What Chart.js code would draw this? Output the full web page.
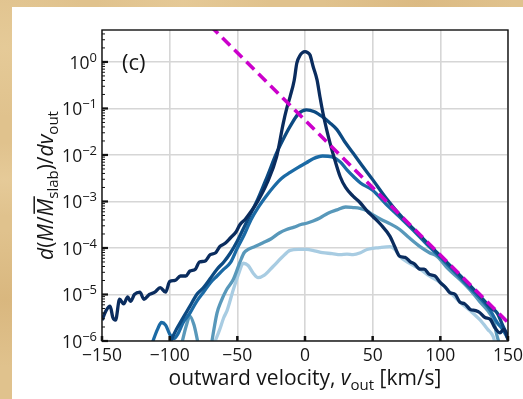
<!DOCTYPE html>
<html>
<head>
<meta charset="utf-8">
<script src="https://cdn.jsdelivr.net/npm/chart.js@4.4.0/dist/chart.umd.min.js"></script>
<style>
html, body { margin: 0; padding: 0; }
body {
  width: 523px; height: 399px; overflow: hidden;
  background-color: #e0c28d;
  background-image:
    radial-gradient(ellipse at 1% 12%, rgba(234,210,162,0.5), rgba(234,210,162,0) 14%),
    radial-gradient(ellipse at 1% 45%, rgba(236,212,166,0.45), rgba(236,212,166,0) 12%),
    radial-gradient(ellipse at 1% 75%, rgba(210,172,112,0.5), rgba(210,172,112,0) 16%),
    radial-gradient(ellipse at 35% 0%, rgba(234,208,160,0.5), rgba(234,208,160,0) 18%),
    radial-gradient(ellipse at 80% 0%, rgba(212,174,116,0.4), rgba(212,174,116,0) 16%);
}
canvas { display: block; }
</style>
</head>
<body>
<canvas id="chart" width="523" height="399"></canvas>
<script>
// outward velocity [km/s] and d(M/Mslab)/dv_out for each run (darkest -> lightest)
var vel1 = [-150,-147,-144,-142,-140,-137,-134,-131,-129,-126,-122,-119,-115,-111,-107,-103,-100,-96,-92,-88,-85,-81,-78,-74,-70,-66,-63,-59,-55,-51,-48,-44,-40,-35,-28,-21,-16,-13.5,-11,-8,-6,-3.5,-2,0,2,3.7,6,8.9,11,13.3,16,18.5,22,26,30,35.5,40.6,45.8,50.3,56,62.8,66,70,74,77.6,81,85,88,92,96,100,104,107,111,114.5,118,122,126,129,133,137,140,144,147,150];
var dm1 = [2.8e-6,4.5e-6,5.6e-6,3.2e-6,2.8e-6,7.9e-6,6.3e-6,8.9e-6,7.1e-6,1.0e-5,1.12e-5,7.9e-6,1.0e-5,1.12e-5,1.41e-5,1.12e-5,1.9e-5,2.0e-5,2.5e-5,2.5e-5,3.2e-5,3.5e-5,5.0e-5,5.2e-5,7.2e-5,7.9e-5,1.07e-4,1.26e-4,1.66e-4,2.2e-4,3.2e-4,4.2e-4,6.0e-4,1.0e-3,2.5e-3,9.1e-3,0.049,0.1,0.18,0.4,0.95,1.41,1.58,1.66,1.58,1.41,0.8,0.41,0.18,0.079,0.035,0.018,7.9e-3,3.4e-3,2.0e-3,1.3e-3,9.5e-4,6.3e-4,4.7e-4,3.2e-4,1.78e-4,1.12e-4,6.6e-5,6.3e-5,5.1e-5,4.5e-5,3.5e-5,3.5e-5,2.7e-5,2.5e-5,1.8e-5,1.41e-5,1.1e-5,1.0e-5,6.8e-6,6.3e-6,4.8e-6,4.5e-6,4.1e-6,3.2e-6,2.9e-6,2.0e-6,1.5e-6,1.8e-6,1.07e-6];

var vel2 = [-100,-95,-90,-85,-80,-75,-70,-65,-60,-55,-50,-45,-40,-35,-28,-21,-16,-11,-5,1,7,13,18,23.6,29,35.5,42,50,60,70,80,90,100,110,120,130,137,142,146,150];
var dm2 = [8.9e-7,1.78e-6,3.2e-6,5.6e-6,1.0e-5,1.41e-5,2.2e-5,3.5e-5,5.0e-5,7.9e-5,1.41e-4,2.8e-4,5.6e-4,1.1e-3,3.4e-3,0.011,0.022,0.041,0.076,0.093,0.085,0.066,0.05,0.035,0.02,0.011,6.0e-3,2.95e-3,1.17e-3,5.2e-4,2.6e-4,1.32e-4,6.8e-5,3.5e-5,1.78e-5,8.9e-6,5.2e-6,4.0e-6,2.2e-6,1.26e-6];

var vel3 = [-113,-109,-106,-103,-100,-97,-94,-90,-85,-80,-75,-70,-65,-60,-55,-50,-45,-40,-35,-29,-23,-17,-11,-5,1,6,13,20,26,31,36,41,50,60,70,80,90,100,110,120,130,137,142,146,150];
var dm3 = [8.9e-7,1.78e-6,2.5e-6,2.2e-6,1.41e-6,1.12e-6,1.41e-6,2.5e-6,4.0e-6,7.1e-6,1.12e-5,1.78e-5,2.5e-5,3.5e-5,4.9e-5,1.0e-4,1.9e-4,4.0e-4,7.1e-4,1.26e-3,2.1e-3,3.2e-3,4.2e-3,5.4e-3,6.8e-3,8.3e-3,9.5e-3,9.1e-3,7.1e-3,4.8e-3,3.4e-3,2.5e-3,1.74e-3,8.7e-4,4.6e-4,2.4e-4,1.2e-4,6.3e-5,3.2e-5,1.58e-5,7.9e-6,4.5e-6,2.5e-6,1.78e-6,1.12e-6];

var vel4 = [-91,-88,-85,-82,-79,-75,-69,-67,-65,-62,-58,-53,-48,-45,-42,-37,-31,-25,-19,-13.6,-8,-3,1.2,6,11,17,23.6,30,35.5,40.6,45.8,50,57,63,70,77,85,92,97.6,106,114.5,122,129,135,139,142,144];
var dm4 = [8.9e-7,2.0e-6,3.4e-6,2.2e-6,8.9e-7,null,8.9e-7,2.0e-6,4.0e-6,7.1e-6,1.26e-5,2.1e-5,5.0e-5,7.9e-5,9.3e-5,1.07e-4,1.29e-4,1.58e-4,2.1e-4,2.5e-4,2.8e-4,3.2e-4,3.4e-4,3.8e-4,4.4e-4,5.6e-4,6.6e-4,7.6e-4,7.4e-4,7.1e-4,6.3e-4,5.2e-4,4.0e-4,3.3e-4,2.5e-4,1.66e-4,1.07e-4,7.9e-5,6.6e-5,3.5e-5,2.1e-5,1.26e-5,7.1e-6,4.5e-6,2.9e-6,1.26e-6,7.9e-7];

var vel5 = [-67,-63,-60,-57.6,-53,-49,-45.6,-42,-38,-34.7,-30,-23.6,-17,-11,-5,1.2,7,13,20,26,31,35.5,41,45.8,55,62.8,67,70,77,85,92,100,107,114.5,122,129,135,139,141];
var dm5 = [8.9e-7,1.78e-6,3.2e-6,4.5e-6,1.26e-5,2.8e-5,4.7e-5,4.2e-5,2.8e-5,2.3e-5,2.6e-5,4.0e-5,6.3e-5,8.9e-5,9.3e-5,9.3e-5,8.7e-5,7.9e-5,7.6e-5,7.2e-5,7.4e-5,7.2e-5,7.9e-5,9.3e-5,1.02e-4,1.07e-4,8.9e-5,6.6e-5,4.7e-5,3.5e-5,2.5e-5,1.8e-5,1.12e-5,6.8e-6,4.5e-6,2.9e-6,1.78e-6,1.26e-6,7.9e-7];

// exponential reference line (magenta dashed)
var velFit = [-70, 150];
var dmFit = [6.0, 2.5e-6];

var xTicks = [-150, -100, -50, 0, 50, 100, 150];
var yTicks = [1e-6, 1e-5, 1e-4, 1e-3, 1e-2, 1e-1, 1];
var yExp = ['\u22126', '\u22125', '\u22124', '\u22123', '\u22122', '\u22121', '0'];

var colors = ['#0a2c5e', '#0c4a82', '#1b6aa5', '#5898ba', '#a8cce2'];
var FONT = '"Open Sans", "DejaVu Sans", sans-serif';
var INK = '#151515';

function pts(xs, ys){
    return xs.map(function(x, i){ return {x: x, y: ys[i]}; });
}

function fontOf(s, size){
    var sz = (s.sub || s.sup) ? Math.round(size * 0.72) : size;
    return (s.i ? 'italic ' : '') + sz + 'px ' + FONT;
}

function drawRich(ctx, segs, x, y, size, align){
    var w = 0;
    segs.forEach(function(s){ ctx.font = fontOf(s, size); w += ctx.measureText(s.t).width; });
    var cx = align === 'center' ? x - w / 2 : (align === 'right' ? x - w : x);
    ctx.textAlign = 'left';
    ctx.textBaseline = 'alphabetic';
    segs.forEach(function(s){
        ctx.font = fontOf(s, size);
        var sw = ctx.measureText(s.t).width;
        var dy = s.sub ? size * 0.25 : (s.sup ? -size * 0.42 : 0);
        ctx.fillText(s.t, cx, y + dy);
        if(s.over){ ctx.fillRect(cx + size * 0.12, y - size * 0.93, sw, size * 0.07); }
        cx += sw;
    });
}

var decor = {
    id: 'decor',
    beforeDraw: function(chart){
        var c = chart.ctx;
        c.save();
        c.fillStyle = '#ffffff';
        c.fillRect(12, 7, chart.width - 12, chart.height - 7);
        c.restore();
    },
    afterDraw: function(chart){
        var c = chart.ctx, a = chart.chartArea;
        var xs = chart.scales.x, ys = chart.scales.y;
        c.save();
        c.fillStyle = INK;
        c.strokeStyle = '#111';

        // inward ticks, left axis
        for(var k = -6; k <= 0; k++){
            for(var m = 1; m <= 9; m++){
                var v = m * Math.pow(10, k);
                if(v > ys.max) break;
                var py = ys.getPixelForValue(v);
                c.lineWidth = m === 1 ? 2.2 : 1;
                c.beginPath();
                c.moveTo(a.left, py);
                c.lineTo(a.left + (m === 1 ? 6 : 3), py);
                c.stroke();
            }
        }
        // inward ticks, bottom axis
        c.lineWidth = 2.5;
        xTicks.forEach(function(v){
            var px = xs.getPixelForValue(v);
            c.beginPath();
            c.moveTo(px, a.bottom);
            c.lineTo(px, a.bottom - 5);
            c.stroke();
        });

        // frame
        c.lineWidth = 1.4;
        c.strokeRect(a.left, a.top, a.right - a.left, a.bottom - a.top);

        // y tick labels 10^n
        yTicks.forEach(function(v, i){
            var py = ys.getPixelForValue(v);
            drawRich(c, [{t: '10'}, {t: yExp[i], sup: true}], a.left - 5, py + 7, 17.5, 'right');
        });
        // x tick labels
        c.font = '17.5px ' + FONT;
        c.textAlign = 'center';
        c.textBaseline = 'alphabetic';
        xTicks.forEach(function(v){
            var txt = v < 0 ? '\u2212' + Math.abs(v) : String(v);
            c.fillText(txt, xs.getPixelForValue(v), a.bottom + 20);
        });

        // x title
        drawRich(c, [
            {t: 'outward velocity, '}, {t: 'v', i: true}, {t: 'out', sub: true}, {t: ' [km/s]'}
        ], (a.left + a.right) / 2, 385, 21, 'center');

        // y title (rotated)
        c.save();
        c.translate(53, (a.top + a.bottom) / 2);
        c.rotate(-Math.PI / 2);
        drawRich(c, [
            {t: 'd', i: true}, {t: '('}, {t: 'M', i: true}, {t: '/'}, {t: 'M', i: true, over: true},
            {t: 'slab', sub: true}, {t: ')/'}, {t: 'd', i: true}, {t: 'v', i: true}, {t: 'out', sub: true}
        ], 0, 0, 21, 'center');
        c.restore();

        // panel letter
        c.font = '22px ' + FONT;
        c.textAlign = 'left';
        c.fillText('(c)', 122, 70);
        c.restore();
    }
};

var lineStyle = function(label, xs, ys, color){
    return {
        label: label,
        data: pts(xs, ys),
        borderColor: color,
        borderWidth: 3.3,
        pointRadius: 0,
        fill: false,
        cubicInterpolationMode: 'monotone',
        spanGaps: false
    };
};

var ctx = document.getElementById('chart').getContext('2d');
var chart = new Chart(ctx, {
    type: 'line',
    data: {
        datasets: [
            {
                label: 'fit',
                data: pts(velFit, dmFit),
                borderColor: '#cc00cc',
                borderWidth: 3.6,
                borderDash: [11, 6],
                pointRadius: 0,
                fill: false
            },
            lineStyle('run 1', vel1, dm1, colors[0]),
            lineStyle('run 2', vel2, dm2, colors[1]),
            lineStyle('run 3', vel3, dm3, colors[2]),
            lineStyle('run 4', vel4, dm4, colors[3]),
            lineStyle('run 5', vel5, dm5, colors[4])
        ]
    },
    options: {
        responsive: false,
        animation: false,
        devicePixelRatio: 1,
        layout: { padding: { left: 0, top: 30, right: 15, bottom: 0 } },
        plugins: { legend: { display: false }, tooltip: { enabled: false } },
        scales: {
            x: {
                type: 'linear',
                min: -150,
                max: 150,
                ticks: { display: false, stepSize: 50 },
                grid: { color: '#d6d6d6', lineWidth: 1.6, drawTicks: false },
                border: { display: false },
                afterFit: function(s){ s.height = 58; }
            },
            y: {
                type: 'logarithmic',
                min: 1e-6,
                max: 4.86,
                ticks: { display: false },
                grid: { color: '#d6d6d6', lineWidth: 1.6, drawTicks: false },
                border: { display: false },
                afterBuildTicks: function(s){ s.ticks = yTicks.map(function(v){ return {value: v}; }); },
                afterFit: function(s){ s.width = 102; }
            }
        }
    },
    plugins: [decor]
});
</script>
</body>
</html>
